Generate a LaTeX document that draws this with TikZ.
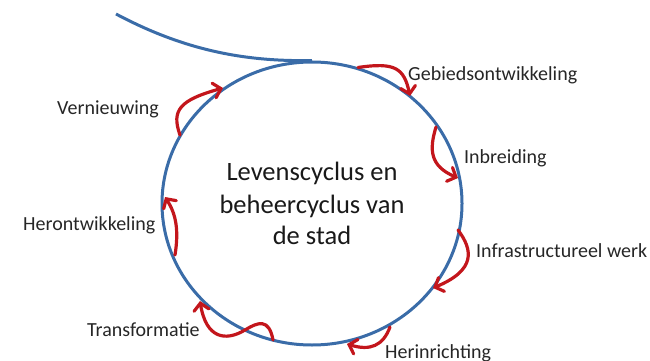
\documentclass[tikz,border=0pt]{standalone}
\usepackage{fontspec}
\setmainfont{Carlito}
\usetikzlibrary{arrows.meta,shapes.geometric}
\definecolor{cycblue}{RGB}{58,108,168}
\definecolor{cycred}{RGB}{195,22,28}
\tikzset{
  cyc/.style={draw=cycblue, line width=3pt},
  phase/.style={draw=cycred, line width=3.2pt, line cap=round,
    -{Straight Barb[length=7pt,width=15pt,line cap=round]}},
  lbl/.style={anchor=base west, inner sep=0pt, font=\fontsize{20}{24}\selectfont, text=black!85}
}
\begin{document}
\begin{tikzpicture}[x=1pt,y=-1pt]
\useasboundingbox (0,0) rectangle (650,361);
% cycle
\node[cyc, ellipse, minimum width=300pt, minimum height=283pt, inner sep=0pt,
      align=center, font=\fontsize{26.5}{31}\selectfont, text=black!90] (cycle) at (312,203.5)
  {\raisebox{2pt}{Levenscyclus en}\\beheercyclus van\\de stad};
% incoming tangent line
\coordinate (lin) at (116,14);
\draw[cycblue, line width=3pt] (lin) .. controls (180,48) and (240,62) .. (cycle.north);
% arrow end points on the cycle
\coordinate (a1) at (358,67.5);  \coordinate (b1) at (410,96);
\coordinate (a2) at (436,127);   \coordinate (b2) at (458,178);
\coordinate (a3) at (458,230);   \coordinate (b3) at (433,288);
\coordinate (a4) at (390,327);   \coordinate (b4) at (347,344);
\coordinate (a5) at (273,340);   \coordinate (m5) at (245,330); \coordinate (b5) at (200,301);
\coordinate (a6) at (175,255);   \coordinate (b6) at (165,197);
\coordinate (a7) at (180,135);   \coordinate (b7) at (223,88);
% phase arrows
\draw[phase] (a1) .. controls (395,62) and (404,68) .. (b1);
\draw[phase] (a2) .. controls (429,150) and (430,166) .. (b2);
\draw[phase] (a3) .. controls (473,250) and (476,270) .. (b3);
\draw[phase] (a4) .. controls (383,346) and (370,351) .. (b4);
\draw[phase] (a5) .. controls (269,318) and (258,322) .. (m5) .. controls (225,342) and (206,338) .. (b5);
\draw[phase] (a6) .. controls (179,230) and (176,214) .. (b6);
\draw[phase] (a7) .. controls (171,110) and (180,100) .. (b7);
% labels
\node[lbl] (l1) at (408,80) {Gebiedsontwikkeling};
\node[lbl] (l2) at (464,163) {Inbreiding};
\node[lbl] (l3) at (476,257) {Infrastructureel werk};
\node[lbl] (l4) at (385,358) {Herinrichting};
\node[lbl] (l5) at (87,336) {Transformatie};
\node[lbl] (l6) at (23,230) {Herontwikkeling};
\node[lbl] (l7) at (57,114) {Vernieuwing};
\end{tikzpicture}
\end{document}
